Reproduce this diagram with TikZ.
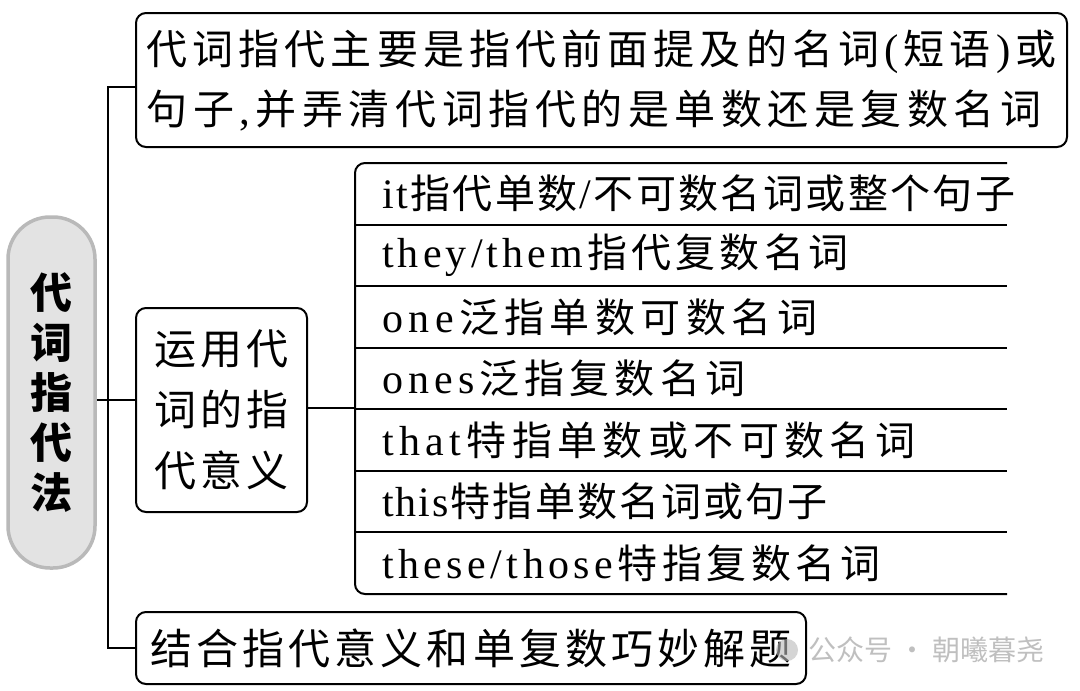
\documentclass[tikz,border=0pt]{standalone}
\usepackage{fontspec}
\setmainfont[Scale=1.05]{Liberation Serif}
\newfontfamily\cjk{Noto Sans CJK SC}
\makeatletter
\def\sp@sep{}
\newcommand\sprd[2]{\makebox[#1][s]{\def\sp@sep{\def\sp@sep{\hfil}}\@tfor\sch:=#2\do{\sp@sep\ifnum\expandafter`\sch>255 {\cjk\sch}\else\sch\fi}}}
\makeatother
\tikzset{
  box/.style={draw, line width=2pt, rounded corners=10pt, inner sep=0pt},
  pill/.style={draw=gray!55, line width=3.5pt, fill=gray!22, rounded corners=42pt, minimum width=87pt, minimum height=351pt, inner sep=0pt},
  conn/.style={line width=2pt},
  rowtext/.style={anchor=west, inner sep=0pt, font=\fontsize{40}{44}\selectfont},
}
\begin{document}
\begin{tikzpicture}[x=1pt, y=-1pt]
\useasboundingbox (0,0) rectangle (1080,691);
% root pill
\node[pill, align=center, font=\cjk\bfseries\fontsize{42}{50}\selectfont] (root) at (51.5,392.5) {代\\词\\指\\代\\法};
% top box
\node[box, minimum width=931pt, minimum height=134pt, align=left, font=\fontsize{41}{60}\selectfont] (top) at (601.5,80)
  {\sprd{910pt}{代词指代主要是指代前面提及的名词(短语)或}\\\sprd{895pt}{句子,并弄清代词指代的是单数还是复数名词}};
% middle box
\node[box, minimum width=171pt, minimum height=204pt, align=center, font=\fontsize{42}{61}\selectfont] (mid) at (221.5,410)
  {\sprd{134pt}{运用代}\\\sprd{134pt}{词的指}\\\sprd{134pt}{代意义}};
% bottom box
\node[box, minimum width=670pt, minimum height=72pt, font=\fontsize{42}{50}\selectfont] (bot) at (471,648)
  {\sprd{642pt}{结合指代意义和单复数巧妙解题}};
% list bracket
\draw[conn, rounded corners=10pt] (1007,163) -- (355,163) -- (355,594) -- (1007,594);
\foreach \k in {1,...,6} \draw[conn] (355,{163+61.571*\k}) -- (1007,{163+61.571*\k});
% rows
\node[rowtext] (r1) at (382,193.8) {\sprd{633pt}{it指代单数/不可数名词或整个句子}};
\node[rowtext] (r2) at (382,255.4) {\sprd{466pt}{they/them指代复数名词}};
\node[rowtext] (r3) at (382,316.9) {\sprd{435pt}{one泛指单数可数名词}};
\node[rowtext] (r4) at (382,378.5) {\sprd{363pt}{ones泛指复数名词}};
\node[rowtext] (r5) at (382,440.1) {\sprd{533pt}{that特指单数或不可数名词}};
\node[rowtext] (r6) at (382,501.6) {\sprd{445pt}{this特指单数名词或句子}};
\node[rowtext] (r7) at (382,563.2) {\sprd{498pt}{these/those特指复数名词}};
% connectors
\coordinate (tk) at (108,400);
\coordinate (lst) at (355,408);
\draw[conn] ([yshift=-7pt]top.west) -| (tk |- bot.west) -- (bot.west);
\draw[conn] ([yshift=-7.5pt]root.east) -- (tk);
\draw[conn] ([yshift=10pt]mid.west) -- (tk);
\draw[conn] ([yshift=2pt]mid.east) -- (lst);
% watermark
\fill[gray!55, opacity=.6] (787,650) circle (11pt);
\node[anchor=west, text=gray!50, font=\cjk\fontsize{28}{28}\selectfont, inner sep=0pt] (wm) at (808,650) {公众号 · 朝曦暮尧};
\end{tikzpicture}
\end{document}
